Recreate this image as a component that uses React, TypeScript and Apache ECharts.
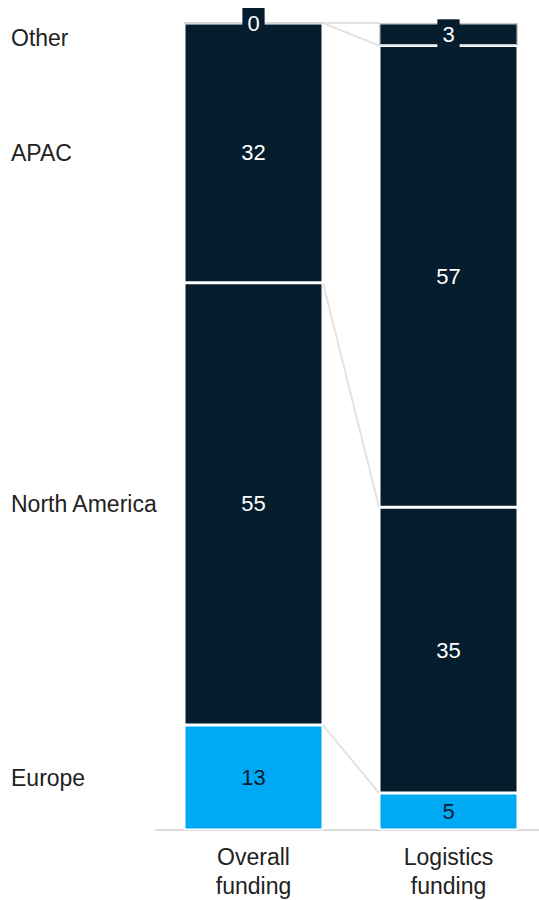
import React, { useEffect, useRef } from "react";
import * as echarts from "echarts";

const categories = ["Overall\nfunding", "Logistics\nfunding"];
const regionNames = ["Europe", "North America", "APAC", "Other"];
const europe = [13, 4.6];
const northAmerica = [54.8, 35.4];
const apac = [32.2, 57.2];
const other = [0, 2.8];

const DARK = "#061d2e";
const BLUE = "#00a9f4";
const FONT = "Liberation Sans, Arial, sans-serif";
const BAR_W = 139;

export default function App() {
  const ref = useRef<HTMLDivElement>(null);
  useEffect(() => {
    if (!ref.current) return;
    const chart = echarts.init(ref.current, undefined, { renderer: "svg" });
    const seriesData = [europe, northAmerica, apac, other];
    const colors = [BLUE, DARK, DARK, DARK];
    const series = seriesData.map((d, i) => ({
      name: regionNames[i],
      type: "bar",
      stack: "total",
      barWidth: BAR_W,
      data: d.map((v) => ({ value: v })),
      itemStyle: {
        color: colors[i],
        borderColor: i === 3 ? "#c5cad0" : "#ffffff",
        borderWidth: 1.5,
      },
      label: {
        show: true,
        position: "inside",
        formatter: (p: any) => String(Math.round(p.value)),
        color: i === 0 ? DARK : "#ffffff",
        fontSize: 22,
        fontFamily: FONT,
        ...(i === 3
          ? { backgroundColor: DARK, padding: [4, 5] }
          : {}),
      },
      z: 3,
    }));
    chart.setOption({
      animation: false,
      grid: { left: 156, top: 23, width: 390, height: 809 },
      xAxis: {
        type: "category",
        data: categories,
        axisLine: { show: true, lineStyle: { color: "#dcdcdc", width: 2 } },
        axisTick: { show: false },
        axisLabel: {
          color: "#222222",
          fontSize: 23,
          lineHeight: 29,
          fontFamily: FONT,
          margin: 12,
        },
      },
      yAxis: {
        type: "value",
        min: 0,
        max: 100,
        show: false,
        splitLine: { show: false },
      },
      series,
    });

    const px = (cat: number, v: number) =>
      chart.convertToPixel({ xAxisIndex: 0, yAxisIndex: 0 }, [cat, v]) as number[];
    const cum = (arrs: number[][], idx: number, n: number) => {
      let s = 0;
      for (let k = 0; k < n; k++) s += arrs[k][idx];
      return s;
    };
    const graphics: any[] = [];
    for (let n = 1; n <= 4; n++) {
      const a = px(0, cum(seriesData, 0, n));
      const b = px(1, cum(seriesData, 1, n));
      graphics.push({
        type: "line",
        shape: { x1: a[0] + BAR_W / 2, y1: a[1], x2: b[0] - BAR_W / 2, y2: b[1] },
        style: { stroke: "#e3e3e3", lineWidth: 2 },
        z: 1,
      });
    }
    for (let i = 0; i < 4; i++) {
      const lo = px(0, cum(seriesData, 0, i));
      const hi = px(0, cum(seriesData, 0, i + 1));
      let y = (lo[1] + hi[1]) / 2;
      if (i === 3) y = hi[1] + 15;
      graphics.push({
        type: "text",
        x: 11,
        y,
        style: {
          text: regionNames[i],
          fill: "#222222",
          fontSize: 23,
          fontFamily: FONT,
          verticalAlign: "middle",
          align: "left",
        },
      });
    }
    chart.setOption({ graphic: graphics });
    return () => chart.dispose();
  }, []);
  return (
    <div
      ref={ref}
      style={{ position: "fixed", left: 0, top: 0, width: 570, height: 900, background: "#fff" }}
    />
  );
}
